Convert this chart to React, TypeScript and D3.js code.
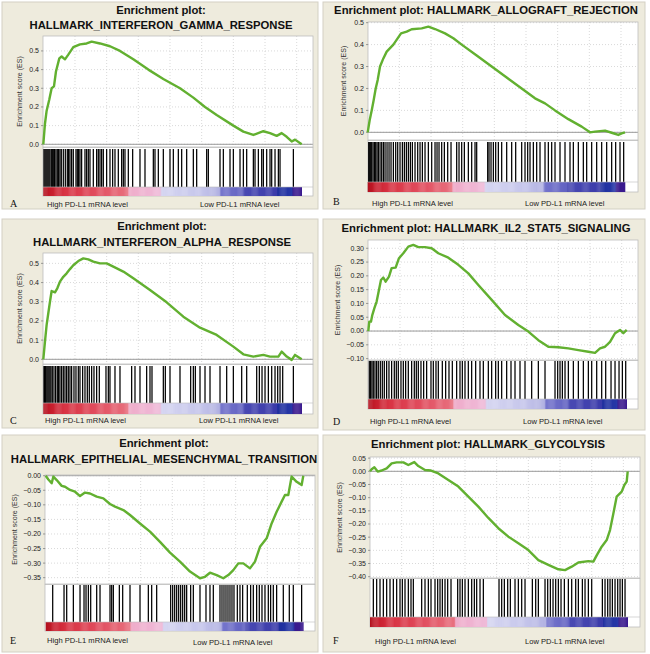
import React from 'react';
import * as d3 from 'd3';

// ---------- DATA (rank along ranked list, running enrichment score) ----------
const gammaCurve: [number, number][] = [
  [0, 0], [5, 0.11], [10, 0.18], [18, 0.24], [25, 0.30], [32, 0.31], [38, 0.39], [48, 0.46], [55, 0.47],
  [65, 0.455], [75, 0.48], [90, 0.52], [110, 0.535], [130, 0.54], [145, 0.55], [170, 0.54], [200, 0.525],
  [230, 0.50], [270, 0.455], [315, 0.40], [360, 0.35], [410, 0.30], [450, 0.25], [485, 0.20], [520, 0.157],
  [570, 0.10], [600, 0.068], [630, 0.05], [660, 0.07], [680, 0.06], [700, 0.045], [715, 0.06], [730, 0.04],
  [745, 0.015], [755, 0.025], [775, 0],
];
const gammaHits: number[] = [
  2, 5, 8, 11, 14, 17, 20, 24, 27, 30, 34, 38, 42, 46, 50, 54, 60, 66, 72, 76, 80, 85, 90, 98, 102, 106, 110,
  115, 125, 130, 135, 140, 150, 160, 165, 170, 175, 180, 190, 200, 208, 215, 225, 235, 240, 245, 255, 268, 290,
  305, 330, 335, 345, 360, 380, 390, 405, 415, 430, 450, 460, 490, 495, 530, 540, 560, 570, 590, 600, 610, 630,
  635, 645, 655, 660, 670, 680, 685, 695, 705, 710, 750,
];

const allograftCurve: [number, number][] = [
  [0, 0], [6, 0.056], [12, 0.10], [18, 0.147], [24, 0.20], [30, 0.239], [37, 0.30], [47, 0.337], [57, 0.368],
  [77, 0.40], [100, 0.451], [117, 0.459], [132, 0.47], [162, 0.474], [182, 0.482], [202, 0.471], [232, 0.451],
  [257, 0.429], [282, 0.40], [327, 0.35], [372, 0.30], [417, 0.25], [462, 0.20], [502, 0.155], [532, 0.132],
  [562, 0.10], [602, 0.06], [642, 0.026], [667, 0], [682, 0.003], [712, 0.008], [732, -0.002], [752, -0.012],
  [762, -0.005], [772, 0],
];
const allograftHits: number[] = [
  3, 6, 9, 12, 16, 20, 24, 28, 32, 37, 42, 47, 52, 58, 64, 70, 77, 84, 90, 97, 104, 110, 116, 122, 128, 134,
  142, 150, 157, 164, 172, 182, 192, 202, 208, 214, 222, 230, 240, 250, 267, 274, 282, 290, 302, 312, 322, 327,
  360, 364, 370, 377, 384, 392, 402, 417, 432, 444, 462, 472, 480, 487, 497, 507, 517, 532, 542, 552, 562, 577,
  592, 607, 617, 632, 647, 657, 672, 687, 702, 717, 732, 744, 757, 768,
];

const alphaCurve: [number, number][] = [
  [0, 0], [5, 0.092], [10, 0.179], [15, 0.24], [20, 0.30], [25, 0.356], [35, 0.349], [42, 0.37], [50, 0.405],
  [60, 0.43], [70, 0.448], [80, 0.47], [90, 0.49], [105, 0.512], [120, 0.526], [135, 0.521], [150, 0.509],
  [170, 0.50], [190, 0.50], [210, 0.483], [240, 0.457], [270, 0.422], [320, 0.361], [370, 0.297], [420, 0.222],
  [470, 0.165], [520, 0.127], [570, 0.066], [600, 0.026], [630, 0.014], [660, 0.023], [680, 0.014], [705, 0.014],
  [715, 0.04], [730, 0.014], [745, -0.003], [755, 0.023], [775, 0],
];
const alphaHits: number[] = [
  2, 4, 6, 8, 11, 14, 17, 20, 23, 27, 32, 37, 42, 46, 50, 55, 60, 65, 70, 75, 80, 85, 92, 98, 105, 110, 118, 125,
  132, 138, 145, 152, 160, 168, 188, 195, 200, 215, 230, 265, 275, 290, 310, 320, 326, 360, 366, 380, 410, 442,
  450, 456, 470, 485, 500, 530, 550, 570, 595, 610, 640, 648, 656, 665, 675, 685, 695, 703, 710, 718, 750,
];

const il2Curve: [number, number][] = [
  [0, 0], [3, 0.034], [8, 0.034], [12, 0.058], [18, 0.082], [25, 0.107], [30, 0.137], [38, 0.185], [45, 0.194],
  [52, 0.179], [62, 0.197], [70, 0.228], [82, 0.23], [92, 0.264], [105, 0.282], [120, 0.306], [135, 0.312],
  [150, 0.304], [170, 0.304], [190, 0.30], [210, 0.282], [240, 0.266], [270, 0.24], [300, 0.209], [330, 0.167],
  [370, 0.113], [410, 0.058], [450, 0.022], [480, -0.002], [510, -0.033], [540, -0.057], [570, -0.059],
  [600, -0.063], [630, -0.069], [660, -0.075], [680, -0.079], [695, -0.063], [710, -0.057], [725, -0.039],
  [740, -0.008], [755, 0.004], [765, -0.008], [775, 0.004],
];
const il2Hits: number[] = [
  3, 7, 11, 15, 20, 25, 30, 36, 42, 48, 55, 62, 70, 78, 84, 90, 98, 105, 112, 120, 130, 138, 144, 150, 158, 166,
  175, 188, 195, 203, 210, 222, 232, 242, 252, 265, 275, 282, 290, 300, 310, 322, 335, 345, 360, 370, 382, 390,
  400, 415, 428, 440, 455, 470, 490, 510, 530, 560, 568, 575, 582, 590, 600, 615, 630, 645, 660, 670, 685, 700,
  712, 728, 740, 752, 762, 772,
];

const emtCurve: [number, number][] = [
  [0, 0], [8, -0.013], [18, -0.026], [23, -0.003], [33, -0.015], [48, -0.035], [58, -0.038], [73, -0.049],
  [88, -0.055], [103, -0.07], [118, -0.058], [133, -0.061], [153, -0.072], [173, -0.078], [193, -0.097],
  [208, -0.106], [233, -0.118], [253, -0.135], [283, -0.164], [313, -0.192], [343, -0.227], [373, -0.264],
  [403, -0.295], [433, -0.329], [463, -0.352], [478, -0.347], [493, -0.333], [513, -0.341], [533, -0.352],
  [548, -0.341], [563, -0.324], [578, -0.301], [593, -0.301], [613, -0.318], [628, -0.295], [643, -0.244],
  [663, -0.215], [678, -0.164], [693, -0.124], [708, -0.089], [718, -0.066], [728, -0.066], [738, -0.003],
  [753, -0.021], [768, -0.032], [773, 0],
];
const emtHits: number[] = [
  21, 55, 63, 83, 103, 115, 121, 128, 135, 153, 163, 193, 198, 203, 221, 231, 253, 283, 308, 318, 333, 375, 381,
  387, 393, 399, 405, 411, 417, 423, 435, 443, 463, 481, 493, 503, 523, 529, 535, 541, 547, 553, 559, 565, 575,
  583, 591, 605, 615, 623, 633, 641, 649, 658, 668, 675, 683, 693, 713, 731, 743, 768,
];

const glycoCurve: [number, number][] = [
  [0, 0], [5, 0.008], [13, 0.015], [23, -0.001], [35, 0.003], [50, 0.011], [65, 0.03], [80, 0.034], [100, 0.034],
  [115, 0.024], [125, 0.03], [133, 0.035], [145, 0.02], [165, 0.005], [183, 0.003], [205, -0.008], [235, -0.033],
  [265, -0.058], [295, -0.096], [325, -0.134], [355, -0.177], [385, -0.216], [415, -0.248], [445, -0.273],
  [475, -0.299], [505, -0.337], [535, -0.355], [565, -0.372], [585, -0.375], [605, -0.362], [625, -0.346],
  [655, -0.341], [670, -0.343], [680, -0.319], [695, -0.286], [710, -0.261], [720, -0.223], [730, -0.16],
  [740, -0.096], [755, -0.077], [763, -0.052], [770, -0.039], [773, 0],
];
const glycoHits: number[] = [
  10, 20, 30, 40, 50, 60, 70, 80, 90, 97, 105, 115, 123, 130, 155, 165, 175, 183, 195, 203, 210, 217, 225, 233,
  243, 263, 270, 277, 285, 295, 305, 313, 320, 330, 340, 387, 395, 403, 413, 421, 435, 445, 455, 465, 487, 497,
  505, 525, 533, 541, 549, 557, 565, 573, 583, 595, 605, 617, 625, 637, 645, 655, 665, 697, 705, 713, 720, 727,
  735, 743, 750, 757, 765,
];

const ticksPos01: number[] = [0.0, 0.1, 0.2, 0.3, 0.4, 0.5];
const ticksIl2: number[] = [-0.1, -0.05, 0.0, 0.05, 0.1, 0.15, 0.2, 0.25, 0.3];
const ticksEmt: number[] = [-0.35, -0.3, -0.25, -0.2, -0.15, -0.1, -0.05, 0.0];
const ticksGlyco: number[] = [-0.4, -0.35, -0.3, -0.25, -0.2, -0.15, -0.1, -0.05, 0.0, 0.05];

const highLabel = 'High PD-L1 mRNA level';
const lowLabel = 'Low PD-L1 mRNA level';
const yTitle = 'Enrichment score (ES)';

// ranked-list colour bar (fraction of list -> colour)
const barStops: number[] = [0, 0.03, 0.08, 0.2, 0.325, 0.33, 0.45, 0.455, 0.6, 0.68, 0.685, 0.77, 0.775, 0.9, 0.905, 0.96, 0.965, 1];
const barColors: string[] = [
  '#b3121f', '#c81f2e', '#d83444', '#e14d5e', '#e8707f', '#efacca', '#efbad8', '#d6d6f1', '#c6c6eb', '#b2b2e2',
  '#7676cc', '#6262c2', '#4a4ab3', '#3c3caa', '#1f2f9e', '#2838a8', '#3a1a8e', '#3a1a8e',
];

// ---------- LAYOUT ----------
const SANS = "'Liberation Sans', Arial, Helvetica, sans-serif";
const SERIF = "'Liberation Serif', 'Times New Roman', serif";

type Panel = {
  letter: string; title: string[]; titleX: number; titleY: number[];
  curve: [number, number][]; hits: number[]; n: number; ticks: number[]; fmt: string;
  bg: [number, number, number, number];
  left: number; right: number; x0: number; x1: number;
  top: number; esBottom: number; hitsTop: number; cbTop: number; cbBottom: number;
  yDomain: [number, number]; yLabelOff: number;
  letterX: number; letterY: number; highX: number; lowX: number; labY: number; lowY: number;
};

const panels: Panel[] = [
  {
    letter: 'A', title: ['Enrichment plot:', 'HALLMARK_INTERFERON_GAMMA_RESPONSE'], titleX: 161, titleY: [14, 29],
    curve: gammaCurve, hits: gammaHits, n: 775, ticks: ticksPos01, fmt: '.1f',
    bg: [2, 2, 318, 209], left: 43, right: 313, x0: 43.3, x1: 301.7,
    top: 36, esBottom: 147, hitsTop: 149, cbTop: 187, cbBottom: 196, yDomain: [-0.0145, 0.58], yLabelOff: 21,
    letterX: 10, letterY: 207, highX: 47, lowX: 200, labY: 207, lowY: 207,
  },
  {
    letter: 'B', title: ['Enrichment plot: HALLMARK_ALLOGRAFT_REJECTION'], titleX: 486, titleY: [14],
    curve: allograftCurve, hits: allograftHits, n: 772, ticks: ticksPos01, fmt: '.1f',
    bg: [323, 2, 645, 209], left: 368, right: 638, x0: 367.7, x1: 625,
    top: 22, esBottom: 140, hitsTop: 142, cbTop: 182, cbBottom: 192, yDomain: [-0.035, 0.503], yLabelOff: 22,
    letterX: 333, letterY: 205, highX: 372, lowX: 525, labY: 206, lowY: 206,
  },
  {
    letter: 'C', title: ['Enrichment plot:', 'HALLMARK_INTERFERON_ALPHA_RESPONSE'], titleX: 162, titleY: [230, 246],
    curve: alphaCurve, hits: alphaHits, n: 775, ticks: ticksPos01, fmt: '.1f',
    bg: [2, 219, 318, 428], left: 43, right: 313, x0: 43.3, x1: 301.7,
    top: 253, esBottom: 364, hitsTop: 366, cbTop: 403, cbBottom: 414, yDomain: [-0.0245, 0.554], yLabelOff: 21,
    letterX: 10, letterY: 424, highX: 45, lowX: 199, labY: 423, lowY: 423,
  },
  {
    letter: 'D', title: ['Enrichment plot: HALLMARK_IL2_STAT5_SIGNALING'], titleX: 486, titleY: [232],
    curve: il2Curve, hits: il2Hits, n: 775, ticks: ticksIl2, fmt: '.2f',
    bg: [323, 219, 645, 430], left: 368, right: 638, x0: 368.3, x1: 626.7,
    top: 240, esBottom: 360, hitsTop: 361, cbTop: 399, cbBottom: 409, yDomain: [-0.105, 0.33], yLabelOff: 28,
    letterX: 333, letterY: 425, highX: 370, lowX: 523, labY: 424, lowY: 424,
  },
  {
    letter: 'E', title: ['Enrichment plot:', 'HALLMARK_EPITHELIAL_MESENCHYMAL_TRANSITION'], titleX: 164, titleY: [447, 463],
    curve: emtCurve, hits: emtHits, n: 773, ticks: ticksEmt, fmt: '.2f',
    bg: [2, 435, 318, 652], left: 45, right: 315, x0: 45.7, x1: 303.3,
    top: 475, esBottom: 584, hitsTop: 585, cbTop: 622, cbBottom: 631, yDomain: [-0.3717, 0.0024], yLabelOff: 28,
    letterX: 10, letterY: 644, highX: 47, lowX: 193, labY: 643, lowY: 645,
  },
  {
    letter: 'F', title: ['Enrichment plot: HALLMARK_GLYCOLYSIS'], titleX: 488, titleY: [448],
    curve: glycoCurve, hits: glycoHits, n: 773, ticks: ticksGlyco, fmt: '.2f',
    bg: [323, 435, 645, 652], left: 370, right: 640, x0: 370, x1: 627.7,
    top: 457, esBottom: 578, hitsTop: 579, cbTop: 617, cbBottom: 627, yDomain: [-0.405, 0.0543], yLabelOff: 28,
    letterX: 333, letterY: 644, highX: 375, lowX: 525, labY: 644, lowY: 644,
  },
];

const GRID_STEP = 95;
const barColor = d3.scaleLinear<string>().domain(barStops).range(barColors).interpolate(d3.interpolateRgb);

function GseaPanel({ p }: { p: Panel }) {
  const x = d3.scaleLinear().domain([0, p.n]).range([p.x0, p.x1]);
  const y = d3.scaleLinear().domain(p.yDomain).range([p.esBottom, p.top]);
  const line = d3.line<[number, number]>().x((d) => x(d[0])).y((d) => y(d[1]));
  const maxRank = x.invert(p.right);
  const grid = d3.range(GRID_STEP, maxRank, GRID_STEP);
  const fmt = d3.format(p.fmt);
  const slices = d3.range(0, p.n, p.n / 240);
  const sw = p.n / 240;
  const [bx0, by0, bx1, by1] = p.bg;
  return (
    <g>
      <rect x={bx0} y={by0} width={bx1 - bx0} height={by1 - by0} fill="#eeebdd" stroke="#d3d0c3" strokeWidth={1} />
      {p.title.map((t, i) => (
        <text key={i} x={p.titleX} y={p.titleY[i]} textAnchor="middle" fontFamily={SANS} fontWeight="bold" fontSize={11.3} fill="#111">
          {t}
        </text>
      ))}
      {/* ES plot */}
      <rect x={p.left} y={p.top} width={p.right - p.left} height={p.esBottom - p.top} fill="#fff" />
      {grid.map((g) => (
        <line key={'v' + g} x1={x(g)} x2={x(g)} y1={p.top} y2={p.esBottom} stroke="#cfcfcf" strokeWidth={0.8} strokeDasharray="1,2" />
      ))}
      {p.ticks.map((t) => (
        <line key={'h' + t} x1={p.left} x2={p.right} y1={y(t)} y2={y(t)} stroke="#cfcfcf" strokeWidth={0.8} strokeDasharray="1,2" />
      ))}
      <line x1={p.left} x2={p.right} y1={y(0)} y2={y(0)} stroke="#9a9a9a" strokeWidth={1} />
      <rect x={p.left} y={p.top} width={p.right - p.left} height={p.esBottom - p.top} fill="none" stroke="#bdbdbd" strokeWidth={0.8} />
      {p.ticks.map((t) => (
        <g key={'t' + t}>
          <line x1={p.left - 2} x2={p.left} y1={y(t)} y2={y(t)} stroke="#777" strokeWidth={0.7} />
          <text x={p.left - 4} y={y(t) + 2.4} textAnchor="end" fontFamily={SANS} fontSize={7} fill="#222">
            {fmt(t)}
          </text>
        </g>
      ))}
      <text
        transform={`translate(${p.left - p.yLabelOff},${(p.top + p.esBottom) / 2}) rotate(-90)`}
        textAnchor="middle" fontFamily={SANS} fontSize={7} fill="#333"
      >
        {yTitle}
      </text>
      <path d={line(p.curve) || ''} fill="none" stroke="#62b030" strokeWidth={2.4} strokeLinejoin="round" />
      {/* hits + colour bar */}
      <rect x={p.left} y={p.esBottom + 0.5} width={p.right - p.left} height={p.cbBottom - p.esBottom - 0.5} fill="#fff" stroke="#bdbdbd" strokeWidth={0.8} />
      {p.hits.map((h, i) => (
        <line key={'k' + i} x1={x(h)} x2={x(h)} y1={p.hitsTop} y2={p.cbTop} stroke="#000" strokeWidth={1.25} />
      ))}
      {slices.map((s, i) => (
        <rect key={'c' + i} x={x(s)} y={p.cbTop} width={x(s + sw) - x(s) + 0.3} height={p.cbBottom - p.cbTop} fill={barColor(s / p.n)} />
      ))}
      <line x1={p.left} x2={p.right} y1={p.cbTop} y2={p.cbTop} stroke="#bdbdbd" strokeWidth={0.6} />
      <text x={p.letterX} y={p.letterY} fontFamily={SERIF} fontSize={10} fill="#111">{p.letter}</text>
      <text x={p.highX} y={p.labY} fontFamily={SANS} fontSize={7.6} fill="#222">{highLabel}</text>
      <text x={p.lowX} y={p.lowY} fontFamily={SANS} fontSize={7.6} fill="#222">{lowLabel}</text>
    </g>
  );
}

export default function App() {
  return (
    <svg width={650} height={654} viewBox="0 0 650 654" style={{ position: 'absolute', left: 0, top: 0, background: '#fff' }}>
      <rect x={0} y={0} width={650} height={654} fill="#fff" />
      {panels.map((p) => (
        <GseaPanel key={p.letter} p={p} />
      ))}
    </svg>
  );
}
